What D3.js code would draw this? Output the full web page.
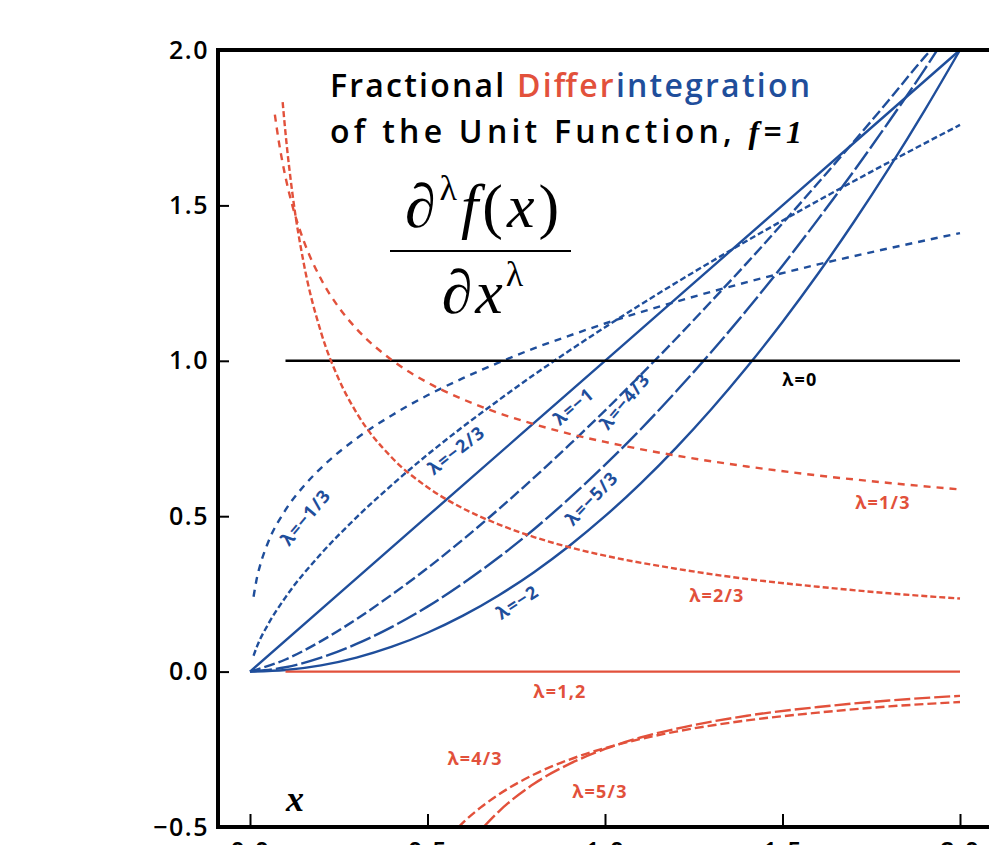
<!DOCTYPE html>
<html>
<head>
<meta charset="utf-8">
<script src="https://cdn.jsdelivr.net/npm/d3@7"></script>
<style>
  body { margin: 0; background: #fff; }
  svg { display: block; }
  .lbl { font-family: "Open Sans", "DejaVu Sans", sans-serif; font-weight: 700; font-size: 18px; letter-spacing: 1.2px; }
</style>
</head>
<body>
<svg id="chart"></svg>
<script>
var width = 989;
var height = 845;
var blue = "#1f4e9b";
var red = "#e2513b";

// values, one pair of arrays per curve
var xsTenth = [0, 0.1, 0.2, 0.3, 0.4, 0.5, 0.6, 0.7, 0.8, 0.9, 1.0, 1.1, 1.2, 1.3, 1.4, 1.5, 1.6, 1.7, 1.8, 1.9, 2.0];

var xsNegThird = [0.01, 0.02, 0.03, 0.05, 0.1, 0.15, 0.2, 0.3, 0.4, 0.5, 0.6, 0.7, 0.8, 0.9, 1.0, 1.2, 1.4, 1.6, 1.8, 2.0];
var ysNegThird = [0.241, 0.304, 0.348, 0.413, 0.520, 0.595, 0.655, 0.750, 0.825, 0.889, 0.944, 0.994, 1.040, 1.081, 1.120, 1.190, 1.253, 1.310, 1.362, 1.411];

var xsNegTwoThirds = [0.01, 0.02, 0.05, 0.1, 0.2, 0.3, 0.4, 0.5, 0.6, 0.7, 0.8, 0.9, 1.0, 1.2, 1.4, 1.6, 1.8, 2.0];
var ysNegTwoThirds = [0.051, 0.082, 0.150, 0.239, 0.379, 0.496, 0.601, 0.698, 0.788, 0.873, 0.955, 1.033, 1.108, 1.251, 1.386, 1.515, 1.639, 1.759];

var xsNegOne = [0, 0.5, 1.0, 1.5, 2.0];
var ysNegOne = [0, 0.5, 1.0, 1.5, 2.0];

var xsNegFourThirds = [0, 0.1, 0.2, 0.3, 0.4, 0.5, 0.6, 0.7, 0.8, 0.9, 1.0, 1.1, 1.2, 1.3, 1.4, 1.5, 1.6, 1.7, 1.8, 1.9, 1.918];
var ysNegFourThirds = [0, 0.039, 0.098, 0.169, 0.248, 0.333, 0.425, 0.522, 0.624, 0.730, 0.840, 0.954, 1.071, 1.192, 1.315, 1.442, 1.572, 1.704, 1.839, 1.977, 2.0];

var xsNegFiveThirds = [0, 0.1, 0.2, 0.3, 0.4, 0.5, 0.6, 0.7, 0.8, 0.9, 1.0, 1.1, 1.2, 1.3, 1.4, 1.5, 1.6, 1.7, 1.8, 1.9, 1.936];
var ysNegFiveThirds = [0, 0.014, 0.045, 0.089, 0.144, 0.209, 0.284, 0.367, 0.458, 0.558, 0.665, 0.779, 0.901, 1.029, 1.164, 1.306, 1.455, 1.609, 1.770, 1.937, 2.0];

var ysNegTwo = [0, 0.005, 0.02, 0.045, 0.08, 0.125, 0.18, 0.245, 0.32, 0.405, 0.5, 0.605, 0.72, 0.845, 0.98, 1.125, 1.28, 1.445, 1.62, 1.805, 2.0];

var xsFlat = [0.1, 2.0];
var ysOne = [1, 1];
var ysZero = [0, 0];

var xsThird = [0.07, 0.08, 0.1, 0.12, 0.15, 0.2, 0.25, 0.3, 0.4, 0.5, 0.6, 0.7, 0.8, 0.9, 1.0, 1.2, 1.4, 1.6, 1.8, 2.0];
var ysThird = [1.792, 1.714, 1.591, 1.497, 1.390, 1.263, 1.172, 1.103, 1.002, 0.930, 0.876, 0.832, 0.796, 0.765, 0.739, 0.695, 0.660, 0.631, 0.607, 0.586];

var xsTwoThirds = [0.092, 0.1, 0.12, 0.15, 0.2, 0.25, 0.3, 0.4, 0.5, 0.6, 0.7, 0.8, 0.9, 1.0, 1.2, 1.4, 1.6, 1.8, 2.0];
var ysTwoThirds = [1.832, 1.733, 1.534, 1.322, 1.092, 0.941, 0.833, 0.688, 0.593, 0.525, 0.474, 0.433, 0.400, 0.373, 0.331, 0.298, 0.273, 0.252, 0.235];

var xsFourThirds = [0.588, 0.6, 0.65, 0.7, 0.8, 0.9, 1.0, 1.1, 1.2, 1.4, 1.6, 1.8, 2.0];
var ysFourThirds = [-0.500, -0.486, -0.437, -0.396, -0.331, -0.283, -0.246, -0.217, -0.193, -0.157, -0.132, -0.112, -0.098];

var xsFiveThirds = [0.658, 0.7, 0.8, 0.9, 1.0, 1.1, 1.2, 1.4, 1.6, 1.8, 2.0];
var ysFiveThirds = [-0.500, -0.451, -0.361, -0.297, -0.249, -0.212, -0.184, -0.142, -0.114, -0.093, -0.078];

var xTicks = [0, 0.5, 1.0, 1.5, 2.0];
var yTicks = [-0.5, 0, 0.5, 1.0, 1.5, 2.0];

var curves = [
  { xs: xsNegThird, ys: ysNegThird, color: blue, dash: "7,6" },
  { xs: xsNegTwoThirds, ys: ysNegTwoThirds, color: blue, dash: "6,3" },
  { xs: xsNegOne, ys: ysNegOne, color: blue, dash: null },
  { xs: xsNegFourThirds, ys: ysNegFourThirds, color: blue, dash: "11,4" },
  { xs: xsNegFiveThirds, ys: ysNegFiveThirds, color: blue, dash: "22,4" },
  { xs: xsTenth, ys: ysNegTwo, color: blue, dash: null },
  { xs: xsFlat, ys: ysOne, color: "#000", dash: null },
  { xs: xsFlat, ys: ysZero, color: red, dash: null },
  { xs: xsThird, ys: ysThird, color: red, dash: "7,6" },
  { xs: xsTwoThirds, ys: ysTwoThirds, color: red, dash: "6,3" },
  { xs: xsFourThirds, ys: ysFourThirds, color: red, dash: "9,4" },
  { xs: xsFiveThirds, ys: ysFiveThirds, color: red, dash: "16,4" }
];

// curve labels, placed in data units
var labels = [
  { t: "λ=−1/3", x: 0.155, y: 0.498, a: -50, c: blue },
  { t: "λ=−2/3", x: 0.580, y: 0.714, a: -38, c: blue },
  { t: "λ=−1", x: 0.910, y: 0.855, a: -40, c: blue },
  { t: "λ=−4/3", x: 1.054, y: 0.871, a: -50, c: blue },
  { t: "λ=−5/3", x: 0.961, y: 0.559, a: -46, c: blue },
  { t: "λ=−2", x: 0.752, y: 0.225, a: -33, c: blue },
  { t: "λ=0", x: 1.549, y: 0.942, a: 0, c: "#000" },
  { t: "λ=1/3", x: 1.783, y: 0.547, a: 0, c: red },
  { t: "λ=2/3", x: 1.315, y: 0.248, a: 0, c: red },
  { t: "λ=1,2", x: 0.873, y: -0.064, a: 0, c: red },
  { t: "λ=4/3", x: 0.634, y: -0.277, a: 0, c: red },
  { t: "λ=5/3", x: 0.986, y: -0.383, a: 0, c: red }
];

var svg = d3.select("#chart").attr("width", width).attr("height", height);

var x = d3.scaleLinear().domain([0, 2]).range([250, 960]);
var y = d3.scaleLinear().domain([-0.5, 2]).range([827, 50]);

var line = d3.line()
  .x(function (d) { return x(d[0]); })
  .y(function (d) { return y(d[1]); })
  .curve(d3.curveMonotoneX);

svg.append("g").selectAll("path")
  .data(curves)
  .enter().append("path")
  .attr("d", function (c) { return line(c.xs.map(function (v, i) { return [v, c.ys[i]]; })); })
  .attr("fill", "none")
  .attr("stroke", function (c) { return c.color; })
  .attr("stroke-width", 2.4)
  .attr("stroke-dasharray", function (c) { return c.dash; });

svg.append("g").selectAll("text")
  .data(labels)
  .enter().append("text")
  .attr("class", "lbl")
  .attr("text-anchor", "middle")
  .attr("dominant-baseline", "central")
  .attr("fill", function (d) { return d.c; })
  .attr("transform", function (d) { return "translate(" + x(d.x) + "," + y(d.y) + ") rotate(" + d.a + ")"; })
  .text(function (d) { return d.t; });

// axes: ticks point into the frame
var fmt = function (d) { return d3.format(".1f")(d).replace("-", "−"); };
var yAxis = svg.append("g")
  .attr("transform", "translate(218,0)")
  .call(d3.axisLeft(y).tickValues(yTicks).tickSize(-11).tickPadding(9).tickFormat(fmt));
var xAxis = svg.append("g")
  .attr("transform", "translate(0,827)")
  .call(d3.axisBottom(x).tickValues(xTicks).tickSize(-13).tickPadding(15).tickFormat(fmt));
[yAxis, xAxis].forEach(function (ax) {
  ax.select(".domain").remove();
  ax.selectAll("line").attr("stroke", "#000").attr("stroke-width", 2);
  ax.selectAll("text")
    .attr("fill", "#000")
    .style("font-family", "Open Sans, DejaVu Sans, sans-serif")
    .style("font-weight", "600")
    .style("font-size", "25px")
    .style("letter-spacing", "1.5px");
});

// frame (right side runs off the picture)
svg.append("path")
  .attr("d", "M1010,50H218V827H1010")
  .attr("fill", "none")
  .attr("stroke", "#000")
  .attr("stroke-width", 4);

// x axis name
svg.append("text")
  .attr("x", 295).attr("y", 811)
  .attr("text-anchor", "middle")
  .style("font-family", "Liberation Serif, serif")
  .style("font-style", "italic")
  .style("font-weight", "bold")
  .style("font-size", "36px")
  .text("x");

// title
var title = svg.append("text")
  .attr("x", 330).attr("y", 97)
  .attr("textLength", 480)
  .attr("lengthAdjust", "spacing")
  .style("font-family", "Open Sans, DejaVu Sans, sans-serif")
  .style("font-weight", "600")
  .style("font-size", "32px");
title.append("tspan").attr("fill", "#000").text("Fractional ");
title.append("tspan").attr("fill", red).text("Differ");
title.append("tspan").attr("fill", blue).text("integration");

var sub = svg.append("text")
  .attr("x", 330).attr("y", 143)
  .attr("textLength", 472)
  .attr("lengthAdjust", "spacing")
  .style("font-family", "Open Sans, DejaVu Sans, sans-serif")
  .style("font-weight", "600")
  .style("font-size", "32px");
sub.append("tspan").text("of the Unit Function, ");
sub.append("tspan").style("font-family", "Liberation Serif, serif").style("font-style", "italic").text("f");
sub.append("tspan").text("=");
sub.append("tspan").style("font-family", "Liberation Serif, serif").style("font-style", "italic").text("1");

// formula
var num = svg.append("text")
  .attr("x", 484).attr("y", 227)
  .attr("text-anchor", "middle")
  .style("font-family", "Liberation Serif, serif")
  .style("font-size", "62px")
  .style("letter-spacing", "4px");
num.append("tspan").text("∂");
num.append("tspan").attr("dy", -27).style("font-size", "36px").text("λ");
num.append("tspan").attr("dy", 27).style("font-style", "italic").text("f");
num.append("tspan").text("(");
num.append("tspan").style("font-style", "italic").text("x");
num.append("tspan").text(")");

svg.append("line")
  .attr("x1", 390).attr("x2", 571)
  .attr("y1", 251).attr("y2", 251)
  .attr("stroke", "#000").attr("stroke-width", 2);

var den = svg.append("text")
  .attr("x", 484).attr("y", 313)
  .attr("text-anchor", "middle")
  .style("font-family", "Liberation Serif, serif")
  .style("font-size", "62px")
  .style("letter-spacing", "3px");
den.append("tspan").text("∂");
den.append("tspan").style("font-style", "italic").text("x");
den.append("tspan").attr("dy", -27).style("font-size", "36px").text("λ");
</script>
</body>
</html>
